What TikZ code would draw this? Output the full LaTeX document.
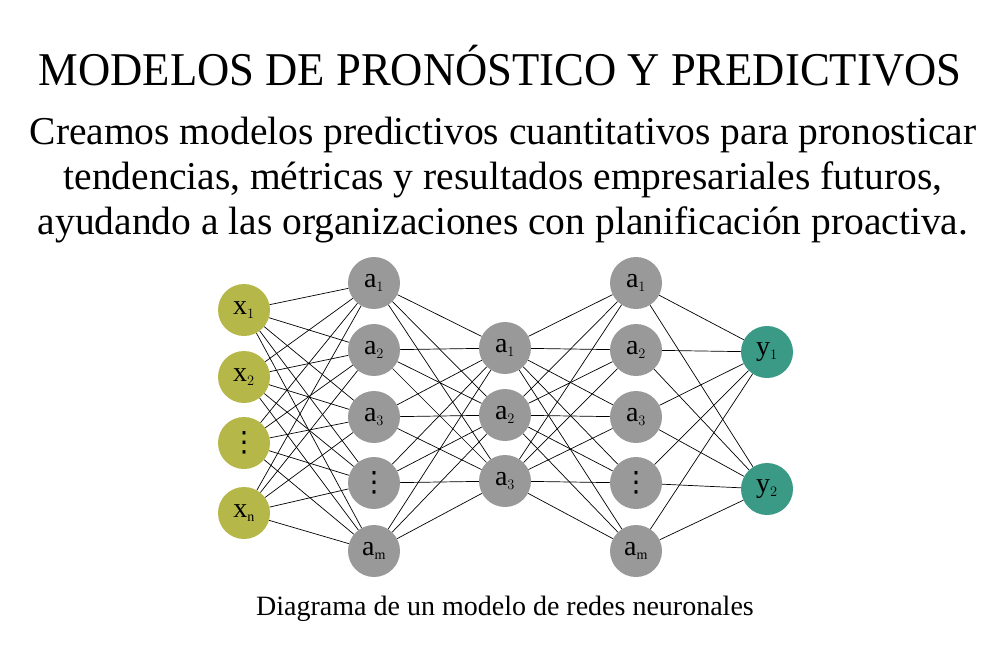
\documentclass[tikz,border=0pt]{standalone}
\usepackage{fontspec}
\setmainfont{Liberation Serif}
\newfontfamily\dvf{DejaVu Sans}
\definecolor{inp}{HTML}{B5B848}
\definecolor{hid}{HTML}{999999}
\definecolor{outc}{HTML}{3A9A86}
\newcommand{\vd}{{\dvf ⋮}}
\begin{document}
\begin{tikzpicture}[x=1pt,y=-1pt,
  neu/.style={circle,minimum size=52pt,inner sep=0pt,font=\fontsize{28}{30}\selectfont},
  edge/.style={line width=0.7pt}]
\useasboundingbox (0,0) rectangle (1000,645);
\node[xscale=0.95,font=\fontsize{47}{50}\selectfont] (title) at (500,66) {MODELOS DE PRONÓSTICO Y PREDICTIVOS};
\node[align=center,font=\fontsize{39.5}{45}\selectfont] (sub) at (503,180) {Creamos modelos predictivos cuantitativos para pronosticar\\tendencias, métricas y resultados empresariales futuros,\\ayudando a las organizaciones con planificación proactiva.};
\foreach \n/\y/\t in {1/310/{x$_{\scriptscriptstyle1}$},2/377/{x$_{\scriptscriptstyle2}$},3/443/{\vd},4/513/{x$_{\scriptscriptstyle\mathrm{n}}$}}
  \node[neu,fill=inp] (i\n) at (244,\y) {\t};
\foreach \n/\y/\t in {1/283/{a$_{\scriptscriptstyle1}$},2/350/{a$_{\scriptscriptstyle2}$},3/417/{a$_{\scriptscriptstyle3}$},4/483/{\vd},5/551/{a$_{\scriptscriptstyle\mathrm{m}}$}}
  {\node[neu,fill=hid] (h\n) at (374,\y) {\t};
   \node[neu,fill=hid] (k\n) at (636,\y) {\t};}
\foreach \n/\y in {1/348,2/415,3/481}
  \node[neu,fill=hid] (m\n) at (505,\y) {a$_{\scriptscriptstyle\n}$};
\node[neu,fill=outc] (o1) at (767,352) {y$_{\scriptscriptstyle1}$};
\node[neu,fill=outc] (o2) at (767,489) {y$_{\scriptscriptstyle2}$};
\foreach \a in {1,...,4}\foreach \b in {1,...,5} \draw[edge] (i\a) -- (h\b);
\foreach \a in {1,...,5}\foreach \b in {1,...,3} {\draw[edge] (h\a) -- (m\b); \draw[edge] (m\b) -- (k\a);}
\foreach \a in {1,...,5}\foreach \b in {1,2} \draw[edge] (k\a) -- (o\b);
\node[font=\fontsize{28}{30}\selectfont] (cap) at (505,609) {Diagrama de un modelo de redes neuronales};
\end{tikzpicture}
\end{document}
